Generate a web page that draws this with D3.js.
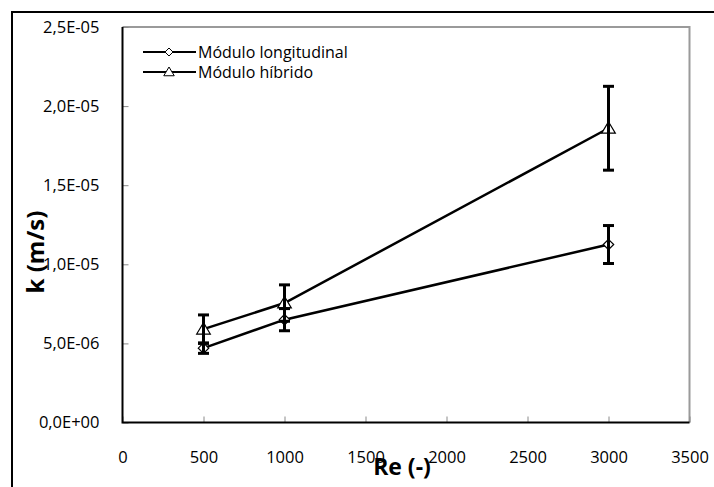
<!DOCTYPE html>
<html><head><meta charset="utf-8">
<script src="https://cdn.jsdelivr.net/npm/d3@7"></script>
<style>body{margin:0;background:#fff}svg{display:block}text{font-family:"Open Sans",sans-serif}</style>
</head><body>
<svg id="c" width="714" height="487"></svg>
<script>
const reValues = [500, 1000, 3000];
const longValues = [4.7e-6, 6.5e-6, 11.25e-6];
const longErrors = [0.33e-6, 0.7e-6, 1.2e-6];
const hybValues = [5.9e-6, 7.55e-6, 18.6e-6];
const hybErrors = [0.9e-6, 1.15e-6, 2.65e-6];
const seriesNames = ["Módulo longitudinal", "Módulo híbrido"];
const xTicks = [0, 500, 1000, 1500, 2000, 2500, 3000, 3500];
const yTicks = [0, 5e-6, 1e-5, 1.5e-5, 2e-5, 2.5e-5];
const yTickLabels = ["0,0E+00", "5,0E-06", "1,0E-05", "1,5E-05", "2,0E-05", "2,5E-05"];

const svg = d3.select("#c");
const L = 122.5, R = 689.5, T = 27, B = 422.5;
const x = d3.scaleLinear().domain([0, 3500]).range([L, R]);
const y = d3.scaleLinear().domain([0, 2.5e-5]).range([B, T]);

// outer chart border
svg.append("rect").attr("x", 12).attr("y", 12).attr("width", 720).attr("height", 500)
  .attr("fill", "none").attr("stroke", "#000").attr("stroke-width", 2);

// plot frame (top/right gray)
svg.append("path").attr("d", `M${L},${T}H${R}V${B}`).attr("fill", "none")
  .attr("stroke", "#9a9a9a").attr("stroke-width", 2);

// x axis
const xAxis = d3.axisBottom(x).tickValues(xTicks).tickSize(-6).tickPadding(0).tickFormat(d => d);
const gx = svg.append("g").attr("transform", `translate(0,${B})`).call(xAxis);
gx.select(".domain").remove();
gx.selectAll(".tick line").attr("stroke", "#8a8a8a").attr("stroke-width", 1);
gx.selectAll(".tick text").attr("y", 35).attr("dy", "0.32em").attr("font-size", 16.5).attr("fill", "#000");

// y axis
const yAxis = d3.axisLeft(y).tickValues(yTicks).tickSize(-6).tickFormat((d, i) => yTickLabels[i]);
const gy = svg.append("g").attr("transform", `translate(${L},0)`).call(yAxis);
gy.select(".domain").remove();
gy.selectAll(".tick line").attr("stroke", "#8a8a8a").attr("stroke-width", 1);
gy.selectAll(".tick text").attr("x", -23).attr("dy", "0.32em").attr("font-size", 16.5).attr("fill", "#000");

// axis lines
svg.append("path").attr("d", `M${L},${T}V${B}H${R}`).attr("fill", "none")
  .attr("stroke", "#000").attr("stroke-width", 2);

// axis titles
svg.append("text").attr("transform", `translate(36,252) rotate(-90)`).attr("text-anchor", "middle")
  .attr("dy", "0.35em").attr("font-size", 24).attr("font-weight", "bold").text("k (m/s)");
svg.append("text").attr("x", 402).attr("y", 467).attr("text-anchor", "middle")
  .attr("dy", "0.35em").attr("font-size", 23).attr("font-weight", "bold").text("Re (-)");

const line = d3.line().x(d => x(d[0])).y(d => y(d[1]));
const diamond = s => `M0,${-s}L${s},0L0,${s}L${-s},0Z`;
const tri = s => `M0,${-s}L${s*1.05},${s*0.75}L${-s*1.05},${s*0.75}Z`;

const series = [
  {vals: longValues, errs: longErrors, shape: diamond(5.2)},
  {vals: hybValues, errs: hybErrors, shape: tri(6.5)}
];

series.forEach(s => {
  const pts = reValues.map((r, i) => [r, s.vals[i]]);
  svg.append("path").attr("d", line(pts)).attr("fill", "none").attr("stroke", "#000").attr("stroke-width", 2.5);
});
series.forEach(s => {
  reValues.forEach((r, i) => {
    svg.append("path").attr("d", s.shape).attr("transform", `translate(${x(r)},${y(s.vals[i])})`)
      .attr("fill", "#fff").attr("stroke", "#000").attr("stroke-width", 1.2);
  });
});
series.forEach(s => {
  reValues.forEach((r, i) => {
    const cx = x(r), y1 = y(s.vals[i] + s.errs[i]), y0 = y(s.vals[i] - s.errs[i]);
    const g = svg.append("g").attr("stroke", "#000").attr("stroke-width", 3);
    g.append("line").attr("x1", cx).attr("x2", cx).attr("y1", y1).attr("y2", y0);
    g.append("line").attr("x1", cx - 5.5).attr("x2", cx + 5.5).attr("y1", y1).attr("y2", y1);
    g.append("line").attr("x1", cx - 5.5).attr("x2", cx + 5.5).attr("y1", y0).attr("y2", y0);
  });
});

// legend
series.forEach((s, i) => {
  const ly = 52 + i * 20;
  svg.append("line").attr("x1", 143).attr("x2", 196).attr("y1", ly).attr("y2", ly)
    .attr("stroke", "#000").attr("stroke-width", 2);
  svg.append("path").attr("d", i === 0 ? diamond(4) : tri(5)).attr("transform", `translate(169,${ly})`)
    .attr("fill", "#fff").attr("stroke", "#000").attr("stroke-width", 1);
  svg.append("text").attr("x", 198).attr("y", ly).attr("dy", "0.35em").attr("font-size", 16)
    .text(seriesNames[i]);
});
</script>
</body></html>
